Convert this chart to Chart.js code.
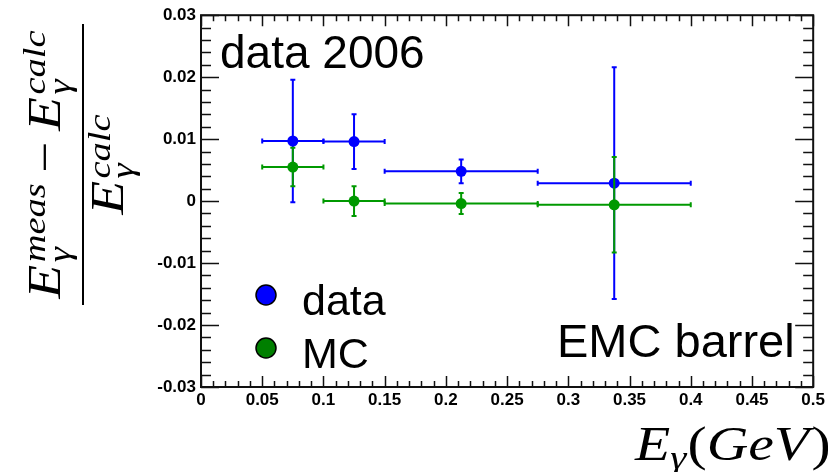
<!DOCTYPE html>
<html>
<head>
<meta charset="utf-8">
<script src="https://cdn.jsdelivr.net/npm/chart.js@4.4.1/dist/chart.umd.min.js"></script>
<style>
  html, body { margin: 0; padding: 0; background: #fff; }
  #chart { display: block; }
</style>
</head>
<body>
<canvas id="chart" width="828" height="472"></canvas>
<script>
// bins in E_gamma (GeV)
const binCenters = [0.075, 0.125, 0.2125, 0.3375];
const binLow = [0.05, 0.10, 0.15, 0.275];
const binHigh = [0.10, 0.15, 0.275, 0.40];

// relative energy shift, data 2006
const dataValues = [0.0097, 0.0096, 0.0048, 0.0029];
const dataErrors = [0.0099, 0.0044, 0.0019, 0.0187];

// relative energy shift, MC
const mcValues = [0.0055, 0.0000, -0.0004, -0.0006];
const mcErrors = [0.0031, 0.0024, 0.0017, 0.0077];

// axis ticks
const xTicks = [0, 0.05, 0.1, 0.15, 0.2, 0.25, 0.3, 0.35, 0.4, 0.45, 0.5];
const xTickLabels = ['0', '0.05', '0.1', '0.15', '0.2', '0.25', '0.3', '0.35', '0.4', '0.45', '0.5'];
const yTicks = [-0.03, -0.02, -0.01, 0, 0.01, 0.02, 0.03];
const yTickLabels = ['-0.03', '-0.02', '-0.01', '0', '0.01', '0.02', '0.03'];

const BLUE = '#0000ff';
const GREEN = '#009900';
const LEGEND_GREEN = '#007f00';

const errors = [
  { vals: dataValues, errs: dataErrors, color: BLUE },
  { vals: mcValues, errs: mcErrors, color: GREEN }
];

// draw the x/y error bars of a dataset just before its markers
const errorBars = {
  id: 'errorBars',
  beforeDatasetDraw(chart, args) {
    const e = errors[args.index];
    const xs = chart.scales.x, ys = chart.scales.y;
    const ctx = chart.ctx;
    ctx.save();
    ctx.strokeStyle = e.color;
    ctx.lineWidth = 2;
    const cap = 2.5;
    for (let i = 0; i < binCenters.length; i++) {
      const px = xs.getPixelForValue(binCenters[i]);
      const py = ys.getPixelForValue(e.vals[i]);
      const x0 = xs.getPixelForValue(binLow[i]);
      const x1 = xs.getPixelForValue(binHigh[i]);
      const y0 = ys.getPixelForValue(e.vals[i] - e.errs[i]);
      const y1 = ys.getPixelForValue(e.vals[i] + e.errs[i]);
      ctx.beginPath();
      ctx.moveTo(x0, py); ctx.lineTo(x1, py);
      ctx.moveTo(px, y0); ctx.lineTo(px, y1);
      // end caps
      ctx.moveTo(x0, py - cap); ctx.lineTo(x0, py + cap);
      ctx.moveTo(x1, py - cap); ctx.lineTo(x1, py + cap);
      ctx.moveTo(px - cap, y0); ctx.lineTo(px + cap, y0);
      ctx.moveTo(px - cap, y1); ctx.lineTo(px + cap, y1);
      ctx.stroke();
    }
    ctx.restore();
  }
};

// math text: pieces drawn in a row, sup/sub of a piece share the same x,
// stretched horizontally (sx) to get closer to the TeX glyph widths
function rowWidth(ctx, pieces) {
  let total = 0;
  pieces.forEach(p => {
    let w = 0;
    p.parts.forEach(q => {
      ctx.font = q.font;
      w = Math.max(w, ctx.measureText(q.text).width);
    });
    total += w + (p.gap || 0);
  });
  return total;
}
function drawRow(ctx, pieces, x, y, sx) {
  ctx.save();
  ctx.translate(x, y);
  ctx.scale(sx, 1);
  let cx = 0;
  pieces.forEach(p => {
    let w = 0;
    p.parts.forEach(q => {
      ctx.font = q.font;
      ctx.fillText(q.text, cx, q.dy || 0);
      w = Math.max(w, ctx.measureText(q.text).width);
    });
    cx += w + (p.gap || 0);
  });
  ctx.restore();
}

const STRETCH = 1.2;
const MAIN = 'italic 46px "Liberation Serif", serif';
const SCRIPT = 'italic 32px "Liberation Serif", serif';
const UPRIGHT = '46px "Liberation Serif", serif';

const frameAndText = {
  id: 'frameAndText',
  afterDraw(chart) {
    const ctx = chart.ctx;
    const a = chart.chartArea;
    const xs = chart.scales.x, ys = chart.scales.y;
    ctx.save();

    // frame
    ctx.strokeStyle = '#111';
    ctx.lineWidth = 2;
    ctx.strokeRect(a.left, a.top, a.right - a.left, a.bottom - a.top);

    // inward ticks on all four sides
    ctx.lineWidth = 1.5;
    ctx.beginPath();
    for (let k = 0; k <= 50; k++) {
      const v = k * 0.01;
      const px = Math.round(xs.getPixelForValue(v)) + 0.5;
      const len = k % 5 === 0 ? 11 : 6;
      ctx.moveTo(px, a.bottom); ctx.lineTo(px, a.bottom - len);
      ctx.moveTo(px, a.top); ctx.lineTo(px, a.top + len);
    }
    for (let k = -15; k <= 15; k++) {
      const v = k * 0.002;
      const py = Math.round(ys.getPixelForValue(v)) + 0.5;
      const len = k % 5 === 0 ? 18 : 10;
      ctx.moveTo(a.left, py); ctx.lineTo(a.left + len, py);
      ctx.moveTo(a.right, py); ctx.lineTo(a.right - len, py);
    }
    ctx.stroke();

    // annotations
    ctx.fillStyle = '#000';
    ctx.textBaseline = 'alphabetic';
    ctx.textAlign = 'left';
    ctx.font = '46px "Liberation Sans", Arial, sans-serif';
    ctx.fillText('data 2006', 220, 68);
    ctx.font = '47px "Liberation Sans", Arial, sans-serif';
    ctx.fillText('EMC barrel', 557, 357);

    // legend
    const legend = [
      { label: 'data', color: BLUE, y: 295 },
      { label: 'MC', color: LEGEND_GREEN, y: 348 }
    ];
    ctx.font = '43px "Liberation Sans", Arial, sans-serif';
    legend.forEach(l => {
      ctx.beginPath();
      ctx.arc(266, l.y, 10, 0, Math.PI * 2);
      ctx.fillStyle = l.color;
      ctx.fill();
      ctx.lineWidth = 1.5;
      ctx.strokeStyle = '#000';
      ctx.stroke();
      ctx.fillStyle = '#000';
      ctx.fillText(l.label, 302, l.y + 20);
    });

    // x axis title
    const xTitle = [
      { parts: [{ text: 'E', font: 'italic 48px "Liberation Serif", serif' }] },
      { parts: [{ text: 'γ', font: 'italic 34px "Liberation Serif", serif', dy: 9 }], gap: 1 },
      { parts: [{ text: '(', font: '48px "Liberation Serif", serif' }] },
      { parts: [{ text: 'GeV', font: 'italic 48px "Liberation Serif", serif' }], gap: 2 },
      { parts: [{ text: ')', font: '48px "Liberation Serif", serif' }] }
    ];
    drawRow(ctx, xTitle, 635, 460, STRETCH);

    // y axis title: fraction, rotated
    ctx.translate(83, 164.5);
    ctx.rotate(-Math.PI / 2);
    const num = [
      { parts: [{ text: 'E', font: MAIN }], gap: 2 },
      { parts: [{ text: 'meas', font: SCRIPT, dy: -15 }, { text: 'γ', font: SCRIPT, dy: 10 }], gap: 9 },
      { parts: [{ text: '−', font: UPRIGHT }], gap: 9 },
      { parts: [{ text: 'E', font: MAIN }], gap: 2 },
      { parts: [{ text: 'calc', font: SCRIPT, dy: -15 }, { text: 'γ', font: SCRIPT, dy: 10 }] }
    ];
    const den = [
      { parts: [{ text: 'E', font: MAIN }], gap: 2 },
      { parts: [{ text: 'calc', font: SCRIPT, dy: -13 }, { text: 'γ', font: SCRIPT, dy: 10 }] }
    ];
    const wn = rowWidth(ctx, num) * STRETCH;
    const wd = rowWidth(ctx, den) * STRETCH;
    drawRow(ctx, num, -wn / 2, -23, STRETCH);
    drawRow(ctx, den, -wd / 2, 40, STRETCH);
    ctx.lineWidth = 2;
    ctx.strokeStyle = '#000';
    ctx.beginPath();
    ctx.moveTo(-140.5, 0);
    ctx.lineTo(140.5, 0);
    ctx.stroke();

    ctx.restore();
  }
};

const whiteBg = {
  id: 'whiteBg',
  beforeDraw(chart) {
    const ctx = chart.ctx;
    ctx.save();
    ctx.fillStyle = '#fff';
    ctx.fillRect(0, 0, chart.width, chart.height);
    ctx.restore();
  }
};

const tickFont = { family: '"Liberation Sans", Arial, sans-serif', size: 17, weight: 'bold' };

new Chart(document.getElementById('chart'), {
  type: 'scatter',
  data: {
    datasets: [
      {
        label: 'data',
        data: binCenters.map((x, i) => ({ x: x, y: dataValues[i] })),
        pointRadius: 5.5,
        pointBackgroundColor: BLUE,
        pointBorderWidth: 0,
        order: 2
      },
      {
        label: 'MC',
        data: binCenters.map((x, i) => ({ x: x, y: mcValues[i] })),
        pointRadius: 5.5,
        pointBackgroundColor: GREEN,
        pointBorderWidth: 0,
        order: 1
      }
    ]
  },
  options: {
    responsive: false,
    animation: false,
    devicePixelRatio: 1,
    layout: { padding: { top: 15, right: 13, left: 0, bottom: 0 } },
    plugins: { legend: { display: false }, tooltip: { enabled: false } },
    scales: {
      x: {
        type: 'linear',
        min: 0,
        max: 0.5,
        afterBuildTicks: s => { s.ticks = xTicks.map(v => ({ value: v })); },
        afterFit: s => { s.height = 85; },
        grid: { display: false, drawTicks: false, tickLength: 0 },
        border: { display: false },
        ticks: {
          font: tickFont,
          color: '#000',
          padding: 3,
          maxRotation: 0,
          autoSkip: false,
          callback: (v, i) => xTickLabels[i]
        }
      },
      y: {
        type: 'linear',
        min: -0.03,
        max: 0.03,
        afterBuildTicks: s => { s.ticks = yTicks.map(v => ({ value: v })); },
        afterFit: s => { s.width = 201; },
        grid: { display: false, drawTicks: false, tickLength: 0 },
        border: { display: false },
        ticks: {
          font: tickFont,
          color: '#000',
          padding: 5,
          autoSkip: false,
          callback: (v, i) => yTickLabels[i]
        }
      }
    }
  },
  plugins: [whiteBg, errorBars, frameAndText]
});
</script>
</body>
</html>
